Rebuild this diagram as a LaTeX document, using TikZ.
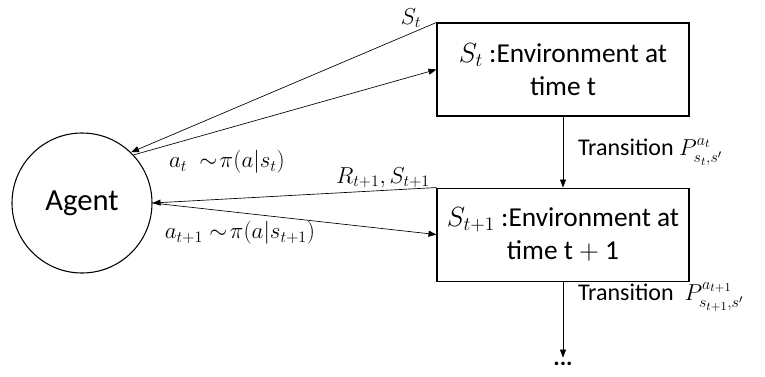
\documentclass[tikz,border=0pt]{standalone}
\usepackage{amsmath,amssymb}
\usepackage{fontspec}
\setmainfont{Carlito}
\usetikzlibrary{positioning,arrows.meta}

\begin{document}
\begin{tikzpicture}[x=0.75pt,y=-0.75pt,
        every node/.style={align=center},
        agentnode/.style={draw, circle, line width=0.8pt, minimum size=105pt, inner sep=0pt, font=\fontsize{23}{27}\selectfont},
        envbox/.style={draw, line width=0.8pt, minimum width=189pt, minimum height=69.75pt, inner sep=2pt, font=\fontsize{20.5}{25}\selectfont},
        arr/.style={-{Triangle[length=6pt,width=4.5pt]}, line width=0.5pt},
        lbl/.style={font=\fontsize{18.5}{22}\selectfont, inner sep=1pt},
        trans/.style={font=\fontsize{18}{21}\selectfont, inner sep=1pt}
      ]
        \useasboundingbox (0,0) rectangle (765,376);
        \node[agentnode] (agent) at (82,203) {Agent};
        \node[envbox] (env1) at (563,69.5) {$S_t$ :Environment at\\time t};
        \node[envbox, below=53.25pt of env1] (env2) {$S_{t+1}$ :Environment at\\time t $+$ 1};
        \node[below=57pt of env2, inner sep=0pt, text height=1.2ex, text depth=0pt, font=\fontsize{18}{21}\selectfont\bfseries] (dots) {...};
        \draw[arr] (env1.north west) -- (agent.46);
        \draw[arr] (agent.43) -- (env1.west);
        \draw[arr] (env2.north west) -- (agent.east);
        \draw[arr] (agent.east) -- (env2.west);
        \draw[arr] (env1.south) -- node[trans, right=10pt, anchor=west]{Transition $P^{a_t}_{s_t,s'}$} (env2.north);
        \draw[arr] (env2.south) -- node[trans, pos=0.2, right=10pt, anchor=west]{Transition \ $P^{a_{t+1}}_{s_{t+1},s'}$} (dots.north);
        \node[lbl] (lblst) at (411,18) {$S_t$};
        \node[lbl] (lblat) at (227,162) {$a_t\ \sim\!\pi(a|s_t)$};
        \node[lbl] (lblrt) at (383,178) {$R_{t+1},S_{t+1}$};
        \node[lbl] (lblat1) at (240,233) {$a_{t+1}\sim\!\pi(a|s_{t+1})$};
      \end{tikzpicture}
\end{document}
